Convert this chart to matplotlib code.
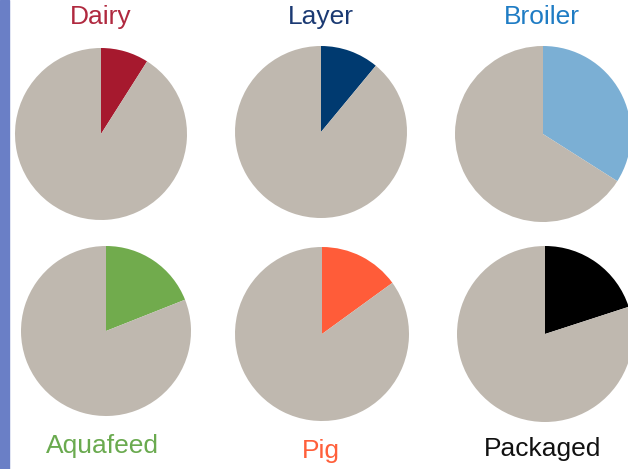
import matplotlib.pyplot as plt
from matplotlib.patches import Rectangle

plt.rcParams['font.family'] = ['Liberation Sans', 'DejaVu Sans']

# Share of each segment (percent); remainder drawn in grey
labels = ['Dairy', 'Layer', 'Broiler', 'Aquafeed', 'Pig', 'Packaged']
shares = [9, 11, 34, 19, 15, 20]
colors = ['#a6192e', '#003a70', '#7bafd4', '#71ab4d', '#ff5c39', '#000000']
label_colors = ['#b0293f', '#1b3a73', '#1f7cc4', '#6aaa4f', '#ff5f3a', '#111111']
rest_color = '#bfb8af'

# layout in pixel coordinates (x, y, radius) and label positions
centers = [(101, 134, 86), (321, 132, 86), (543, 134, 88),
           (106, 331, 85), (322, 334, 87), (545, 334, 88)]
label_pos = [(101, 17), (321, 17), (542, 17),
             (102, 446), (321, 451), (543, 449)]

fig = plt.figure(figsize=(6.28, 4.69), dpi=100)
ax = fig.add_axes([0, 0, 1, 1])

for i in range(len(labels)):
    cx, cy, r = centers[i]
    ax.pie([shares[i], 100 - shares[i]], colors=[colors[i], rest_color],
           startangle=90, counterclock=False, center=(cx, -cy), radius=r,
           wedgeprops={'linewidth': 0}, frame=True)
    lx, ly = label_pos[i]
    ax.text(lx, -ly, labels[i], color=label_colors[i], fontsize=19,
            ha='center', va='center')

ax.add_patch(Rectangle((0, -469), 9, 469, color='#6a7fc6', zorder=5))

ax.set_xlim(0, 628)
ax.set_ylim(-469, 0)
ax.set_aspect('auto')
ax.axis('off')

fig.savefig('out.png', dpi=100)
